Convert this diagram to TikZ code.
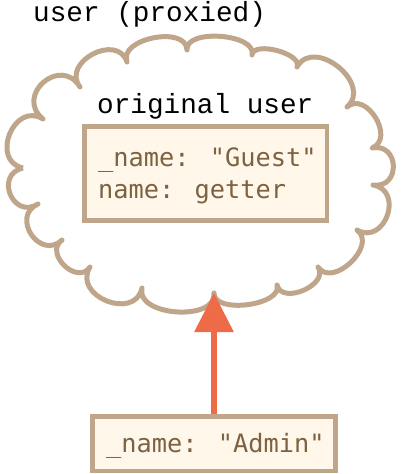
\documentclass[tikz,border=0pt]{standalone}
\usepackage{fontspec}
\newfontfamily\blackmono{Liberation Mono}
\newfontfamily\brownmono{DejaVu Sans Mono}
\usetikzlibrary{arrows.meta}
\definecolor{tanline}{HTML}{BFA68A}
\definecolor{boxfill}{HTML}{FFF8EA}
\definecolor{browntext}{HTML}{7D6242}
\definecolor{arrowred}{HTML}{EE6B48}
\tikzset{
  cloudline/.style={draw=tanline, line width=5pt, line join=round},
  objbox/.style={draw=tanline, fill=boxfill, line width=4.5pt, rectangle, inner sep=0pt},
  blacklabel/.style={anchor=base west, inner sep=0pt, font=\blackmono\fontsize{27.7}{30}\selectfont, text=black},
  browncode/.style={anchor=base west, inner sep=0pt, font=\brownmono\fontsize{25.3}{30}\selectfont, text=browntext},
  bump/.style={bend left=100, looseness=#1},
  protoarrow/.style={draw=arrowred, line width=6pt, -{Triangle[width=38pt,length=39pt]}}
}
\begin{document}
\begin{tikzpicture}[x=1pt,y=-1pt]
\useasboundingbox (0,0) rectangle (400,474);
% cloud cusps
\coordinate (c1) at (23,168);
\coordinate (c2) at (43,119);
\coordinate (c3) at (80,87);
\coordinate (c4) at (127,62);
\coordinate (c5) at (187,50);
\coordinate (c6) at (252,55);
\coordinate (c7) at (297,67);
\coordinate (c8) at (347,107);
\coordinate (c9) at (372,148);
\coordinate (c10) at (373,185);
\coordinate (c11) at (357,230);
\coordinate (c12) at (318,267);
\coordinate (c13) at (277,285);
\coordinate (c14) at (214,293);
\coordinate (c15) at (142,288);
\coordinate (c16) at (90,267);
\coordinate (c17) at (62,240);
\coordinate (c18) at (38,204);
\path[cloudline] (c1) to[bump=1.65] (c2) to[bump=1.95] (c3) to[bump=1.5] (c4)
  to[bump=1.05] (c5) to[bump=0.86] (c6) to[bump=0.8] (c7) to[bump=1.4] (c8)
  to[bump=1.36] (c9) to[bump=1.95] (c10) to[bump=1.72] (c11) to[bump=1.24] (c12)
  to[bump=1.2] (c13) to[bump=0.86] (c14) to[bump=1.03] (c15) to[bump=1.56] (c16)
  to[bump=1.5] (c17) to[bump=1.8] (c18) to[bump=1.95] (c1);

\node[blacklabel] (proxied) at (33,21) {user (proxied)};
\node[blacklabel] (orig) at (97,113) {original user};

\node[objbox, minimum width=242.5pt, minimum height=94pt] (guestbox) at (205.75,173.5) {};
\node[browncode] (guestline) at (98,166) {\_name: "Guest"};
\node[browncode] (getterline) at (98,198) {name: getter};

\node[objbox, minimum width=243pt, minimum height=54.5pt] (adminbox) at (214,443.75) {};
\node[browncode] (adminline) at (106,452) {\_name: "Admin"};

\draw[protoarrow] (adminbox.north) -- (c14);
\end{tikzpicture}
\end{document}
